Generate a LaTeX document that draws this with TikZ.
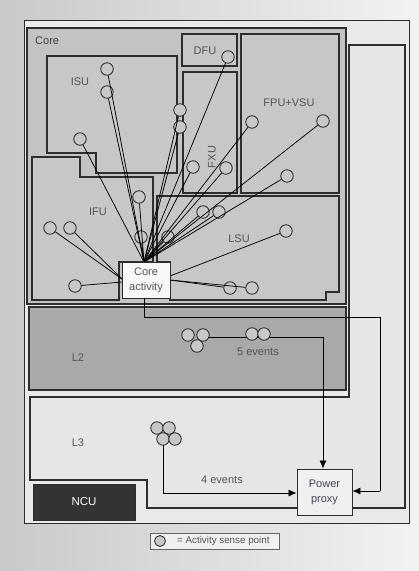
\documentclass[tikz,border=0pt]{standalone}
\usepackage{fontspec}
\setmainfont{Liberation Sans}
\usetikzlibrary{arrows.meta}
\definecolor{bgL}{HTML}{C9C9C9}
\definecolor{bgR}{HTML}{F2F2F2}
\definecolor{chipfill}{HTML}{E9E9E9}
\definecolor{corefill}{HTML}{C3C3C3}
\definecolor{unitfill}{HTML}{C7C7C7}
\definecolor{ltwofill}{HTML}{A9A9A9}
\definecolor{lthreefill}{HTML}{E6E6E6}
\definecolor{ncufill}{HTML}{333333}
\definecolor{edge}{HTML}{2E2E2E}
\definecolor{labelgray}{HTML}{555555}
\definecolor{spfill}{HTML}{C8C8C8}
\definecolor{proxytext}{HTML}{44445A}
\begin{document}
\begin{tikzpicture}[x=1pt,y=-1pt,
  box/.style={draw=edge,line width=1.1pt},
  unit/.style={box,fill=unitfill},
  lbl/.style={text=labelgray,font=\fontsize{11}{12}\selectfont,inner sep=0pt},
  sp/.style={circle,draw=black!85,fill=spfill,minimum size=12.5pt,inner sep=0pt,line width=0.8pt},
  wire/.style={draw=black,line width=0.75pt},
  arr/.style={wire,-{Latex[length=8pt,width=7pt]}},
  blk/.style={draw=edge,line width=0.9pt,align=center,inner sep=0pt,font=\fontsize{11}{15}\selectfont}
]
\useasboundingbox (0,0) rectangle (419,571);
\shade[left color=bgL,right color=bgR] (0,0) rectangle (419,571);
% chip
\draw[draw=edge,line width=0.9pt,fill=chipfill] (24,20) rectangle (409,523);
% L3 region (wrapping)
\draw[box,fill=lthreefill] (349,45) -- (405,45) -- (405,508) -- (147,508) -- (147,480) -- (30,480) -- (30,397) -- (349,397) -- cycle;
% L2
\draw[box,fill=ltwofill] (29,307) rectangle (346,390);
% core
\draw[box,fill=corefill] (27,28) rectangle (346,304);
% units
\draw[unit] (47,56) -- (177,56) -- (177,173) -- (96,173) -- (96,153) -- (47,153) -- cycle;
\draw[unit] (32,157) -- (80,157) -- (80,177) -- (153,177) -- (153,262) -- (119,262) -- (119,300) -- (32,300) -- cycle;
\draw[unit] (182,34) rectangle (237,66);
\draw[unit] (183,72) rectangle (237,193);
\draw[unit] (241,34) rectangle (339,193);
\draw[unit] (157,196) -- (339,196) -- (339,292) -- (326,292) -- (326,300) -- (170,300) -- (170,262) -- (157,262) -- cycle;
% NCU
\node[fill=ncufill,draw=edge,minimum width=102pt,minimum height=36pt,inner sep=0pt,text=white,font=\fontsize{11.5}{12}\selectfont] (ncu) at (84,502) {NCU};
% labels
\node[lbl,text=black!75,anchor=west] (lcore) at (35,41) {Core};
\node[lbl] (lisu) at (80,82) {ISU};
\node[lbl] (lifu) at (98,212) {IFU};
\node[lbl] (ldfu) at (205,51) {DFU};
\node[lbl,rotate=90] (lfxu) at (212,157) {FXU};
\node[lbl] (lfpu) at (289,103) {FPU+VSU};
\node[lbl] (llsu) at (239,239) {LSU};
\node[lbl] (ll2) at (78,358) {L2};
\node[lbl] (ll3) at (78,443) {L3};
\node[lbl] (l5) at (258,352) {5 events};
\node[lbl] (l4) at (222,480) {4 events};
\coordinate (hub) at (144,262);
\coordinate (hl) at (122,279);
\coordinate (hla) at (122,282);
\coordinate (hr) at (170,276);
\coordinate (hrb) at (170,280);
% sense points (core)
\node[sp] (c1) at (107,69) {};
\node[sp] (c2) at (107,92) {};
\node[sp] (c3) at (80,139) {};
\node[sp] (c4) at (180,110) {};
\node[sp] (c5) at (180,127) {};
\node[sp] (c6) at (228,57) {};
\node[sp] (c7) at (193,167) {};
\node[sp] (c8) at (226,168) {};
\node[sp] (c9) at (252,122) {};
\node[sp] (c10) at (323,121) {};
\node[sp] (c11) at (287,176) {};
\node[sp] (c12) at (139,197) {};
\node[sp] (c13) at (50,228) {};
\node[sp] (c14) at (70,228) {};
\node[sp] (c15) at (141,237) {};
\node[sp] (c16) at (168,237) {};
\node[sp] (c17) at (203,212) {};
\node[sp] (c18) at (219,212) {};
\node[sp] (c19) at (286,231) {};
\node[sp] (c20) at (230,288) {};
\node[sp] (c21) at (252,288) {};
\node[sp] (c22) at (75,286) {};
% wires to core activity
\foreach \c in {c1,c2,c3,c4,c5,c6,c7,c8,c9,c10,c11,c12,c15,c16,c17,c18}
  \draw[wire] (hub) -- (\c);
\foreach \c in {c13,c14}
  \draw[wire] (hl) -- (\c);
\draw[wire] (hla) -- (c22);
\draw[wire] (hr) -- (c19);
\draw[wire] (hrb) -- (c20);
\draw[wire] (hrb) -- (c21);
% core activity and power proxy
\node[blk,fill=white!97!black,minimum width=48pt,minimum height=36pt,text=labelgray] (ca) at (146,280) {Core\\activity};
\node[blk,fill=white!94!black,minimum width=55pt,minimum height=46pt,text=proxytext] (pp) at (324.5,492) {Power\\proxy};
% L2 sense points
\coordinate (l2w) at (209,337);
\coordinate (l2c) at (323,337);
\draw[wire] (l2w) -- (l2c);
\draw[arr] (l2c) -- (pp.north -| l2c);
\node[sp] (a1) at (188,335) {};
\node[sp] (a2) at (203,335) {};
\node[sp] (a3) at (197,346) {};
\node[sp] (a4) at (252,334) {};
\node[sp] (a5) at (264,334) {};
% L3 sense points
\coordinate (l3c) at (163,493);
\coordinate (l3t) at (163,440);
\draw[wire] (l3t) -- (l3c);
\draw[arr] (l3c) -- (pp.west |- l3c);
\node[sp] (b1) at (157,428) {};
\node[sp] (b2) at (169,428) {};
\node[sp] (b3) at (163,439) {};
\node[sp] (b4) at (175,439) {};
% core activity to power proxy
\coordinate (k1) at (144,317);
\coordinate (k2) at (380,317);
\coordinate (k3) at (380,491);
\draw[wire] (ca.south -| k1) -- (k1) -- (k2) -- (k3);
\draw[arr] (k3) -- (pp.east |- k3);
% legend
\draw[draw=black!60,line width=0.6pt,fill=white!94!black] (150,533) rectangle (279,549);
\node[sp,minimum size=11pt] (lg) at (160,541) {};
\node[anchor=west,inner sep=0pt,text=labelgray,font=\fontsize{9.8}{10}\selectfont] (lgt) at (177,541) {= Activity sense point};
\end{tikzpicture}
\end{document}
